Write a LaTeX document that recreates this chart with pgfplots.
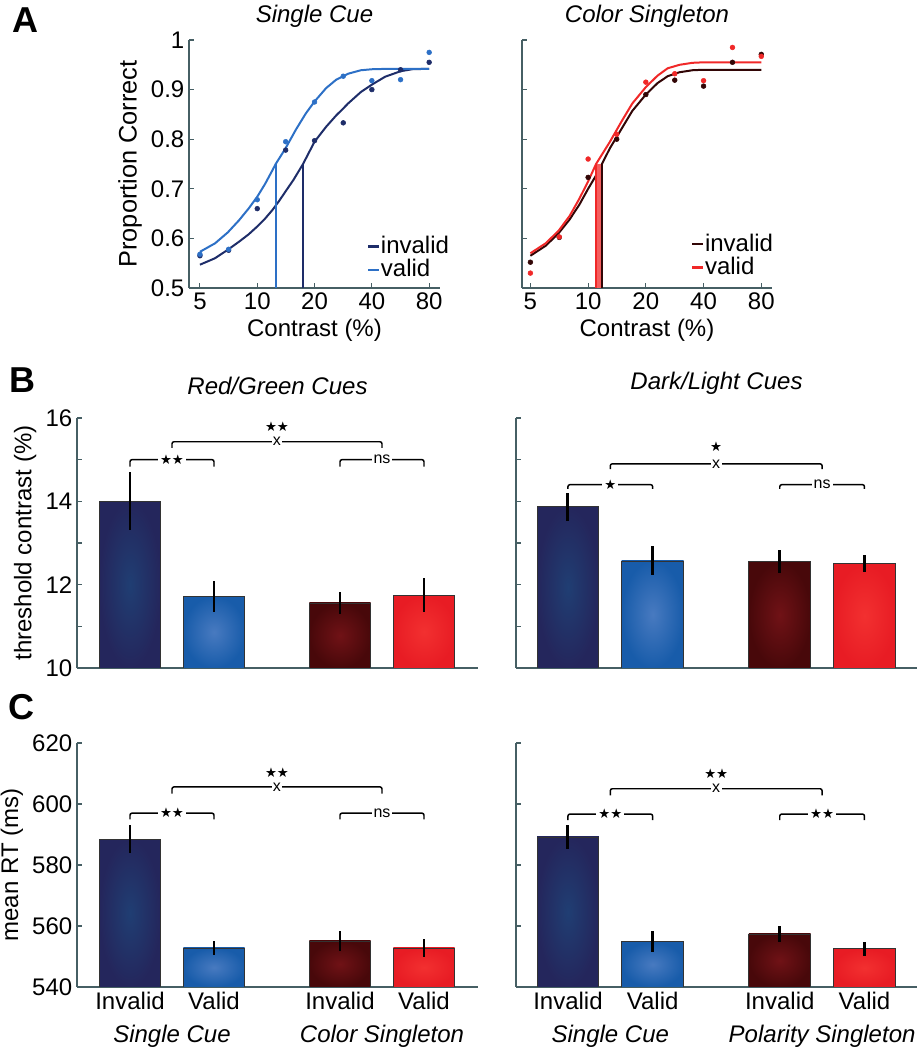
\documentclass[border=0pt]{standalone}
\usepackage{pgfplots}
\pgfplotsset{compat=1.18}
\usepackage{fontspec}
\setmainfont{Liberation Sans}
\newfontfamily\symf{DejaVu Sans}
\definecolor{axcol}{RGB}{70,95,100}
\definecolor{cinv}{RGB}{30,45,105}
\definecolor{cval}{RGB}{45,112,198}
\definecolor{rinv}{RGB}{50,6,6}
\definecolor{rval}{RGB}{240,40,40}
\definecolor{navyout}{RGB}{36,38,92}
\definecolor{navyin}{RGB}{32,62,115}
\definecolor{blueout}{RGB}{24,92,170}
\definecolor{bluein}{RGB}{72,122,192}
\definecolor{marout}{RGB}{72,8,10}
\definecolor{marin}{RGB}{112,18,22}
\definecolor{redout}{RGB}{232,28,36}
\definecolor{redin}{RGB}{242,48,48}
\newcommand{\tfont}{\fontsize{18}{20}\selectfont}
\newcommand{\sfnt}{\fontsize{12}{13}\selectfont}
\newcommand{\stars}[1]{{\symf\fontsize{10}{10}\selectfont #1}}
\tikzset{
 bk/.style={line width=1.1pt, rounded corners=1.5pt},
 lab/.style={fill=white, inner sep=1.5pt, font=\sfnt},
 st/.style={inner sep=0pt, font=\sfnt},
}
\pgfplotsset{
 base/.style={scale only axis, anchor=south west,
   axis x line*=bottom, axis y line*=left,
   axis line style={axcol, line width=1pt},
   tick style={axcol, line width=0.8pt},
   tick align=inside, major tick length=4pt, minor tick length=4pt,
   tick label style={font=\tfont, black},
   label style={font=\tfont},
   title style={font=\tfont\itshape},
   /pgf/number format/assume math mode=true},
 barB/.style={base, ymin=10, ymax=16, ytick={10,12,14,16}, minor ytick={11,13,15},
   xtick=\empty, width=300.75pt, height=187.5pt, title style={yshift=8pt}},
 barC/.style={base, ymin=540, ymax=620, ytick={540,560,580,600,620},
   xtick={1,2,3.5,4.5}, xticklabels={Invalid,Valid,Invalid,Valid}, xtick style={draw=none},
   width=300.75pt, height=183pt},
 ebar/.style={error bars/.cd, y dir=both, y explicit, error mark=none,
   error bar style={line width=2.2pt, black}},
}
\begin{document}
\begin{tikzpicture}
\useasboundingbox (0,0) rectangle (692.25pt,787.5pt);

% ---------------- Panel A left
\begin{axis}[base, xmode=log, ymin=0.5, ymax=1,
  xtick={5,10,20,40,80}, xticklabels={5,10,20,40,80},
  ytick={0.5,0.6,0.7,0.8,0.9,1},
  xlabel={Contrast (\%)},
  legend cell align=left,
  legend image code/.code={\draw[#1, line width=1.8pt] (0pt,0pt) -- (8pt,0pt);},
  legend style={draw=none, fill=none, inner sep=0pt, font=\tfont, row sep=2pt, nodes={inner sep=0.5pt, text height=12.5pt, text depth=2pt}, at={(0.709,0.21)}, anchor=north west},
  at={(141.75pt,571.5pt)}, width=188.25pt, height=186pt,
  xmin=4.38, xmax=91.2, yticklabels={0.5,0.6,0.7,0.8,0.9,1},
  ylabel={Proportion Correct}, ylabel style={font=\fontsize{19}{21}\selectfont}, title={Single Cue}]
\addplot[cinv, line width=1.5pt] coordinates {(5,0.547)(6,0.56)(7,0.577)(8,0.593)(9,0.608)(10,0.624)(11,0.64)(12,0.657)(13,0.675)(14.1,0.695)(15.5,0.718)(17.4,0.75)(20,0.795)(23,0.825)(26,0.848)(28.3,0.862)(30,0.872)(35,0.895)(40,0.91)(47,0.926)(56.6,0.937)(65,0.941)(80,0.942)};
\addlegendentry{invalid}
\addplot[cval, line width=1.5pt] coordinates {(5,0.573)(6,0.59)(7,0.612)(8,0.636)(9,0.66)(10,0.684)(11,0.71)(12,0.737)(12.5,0.75)(14,0.78)(16,0.82)(18,0.852)(20,0.876)(23,0.903)(26,0.92)(30,0.932)(35,0.939)(40,0.941)(50,0.942)(80,0.942)};
\addlegendentry{valid}
\addplot[cinv, line width=1.5pt, forget plot] coordinates {(17.4,0.5)(17.4,0.75)};
\addplot[cval, line width=1.5pt, forget plot] coordinates {(12.5,0.5)(12.5,0.75)};
\addplot[only marks, mark=*, mark size=1.8pt, cinv, forget plot] coordinates {(5,0.565)(7.07,0.576)(10,0.66)(14.1,0.778)(20,0.797)(28.3,0.833)(40,0.90)(56.6,0.94)(80,0.955)};
\addplot[only marks, mark=*, mark size=1.8pt, cval, forget plot] coordinates {(5,0.568)(7.07,0.578)(10,0.678)(14.1,0.795)(20,0.875)(28.3,0.927)(40,0.918)(56.6,0.92)(80,0.975)};
\end{axis}

% ---------------- Panel A right
\begin{axis}[base, xmode=log, ymin=0.5, ymax=1,
  xtick={5,10,20,40,80}, xticklabels={5,10,20,40,80},
  ytick={0.5,0.6,0.7,0.8,0.9,1},
  xlabel={Contrast (\%)},
  legend cell align=left,
  legend image code/.code={\draw[#1, line width=1.8pt] (0pt,0pt) -- (8pt,0pt);},
  legend style={draw=none, fill=none, inner sep=0pt, font=\tfont, row sep=2pt, nodes={inner sep=0.5pt, text height=12.5pt, text depth=2pt}, at={(0.676,0.22)}, anchor=north west},
  at={(391.5pt,571.5pt)}, width=187.5pt, height=186pt,
  xmin=4.52, xmax=91.0, yticklabels={},
  title={Color Singleton}]
\addplot[rinv, line width=1.5pt] coordinates {(5,0.565)(6,0.585)(7,0.61)(8,0.638)(9,0.668)(10,0.7)(11,0.727)(11.8,0.75)(13,0.782)(15,0.822)(17,0.857)(20,0.89)(23,0.913)(26,0.927)(30,0.935)(35,0.939)(40,0.94)(80,0.94)};
\addlegendentry{invalid}
\addplot[rval, line width=1.5pt] coordinates {(5,0.57)(6,0.59)(7,0.615)(8,0.645)(9,0.68)(10,0.715)(11,0.75)(13,0.795)(15,0.837)(17,0.872)(20,0.905)(23,0.928)(26,0.943)(30,0.95)(35,0.954)(40,0.955)(80,0.955)};
\addlegendentry{valid}
\addplot[fill=rval!75, draw=none, forget plot] coordinates {(11,0.5)(11,0.75)(11.8,0.75)(11.8,0.5)} -- cycle;
\addplot[rval, line width=1.5pt, forget plot] coordinates {(11,0.5)(11,0.75)};
\addplot[rinv, line width=1.5pt, forget plot] coordinates {(11.8,0.5)(11.8,0.75)};
\addplot[only marks, mark=*, mark size=1.8pt, rinv, forget plot] coordinates {(5,0.552)(7.07,0.602)(10,0.723)(14.1,0.8)(20,0.89)(28.3,0.919)(40,0.907)(56.6,0.955)(80,0.971)};
\addplot[only marks, mark=*, mark size=1.8pt, rval, forget plot] coordinates {(5,0.53)(7.07,0.603)(10,0.76)(14.1,0.81)(20,0.915)(28.3,0.932)(40,0.918)(56.6,0.985)(80,0.967)};
\end{axis}

% ---------------- Panel B left
\begin{axis}[barB, at={(57.75pt,286.5pt)}, xmin=0.369, xmax=5.143,
  ylabel={threshold contrast (\%)}, title={Red/Green Cues}]
\addplot[ybar, bar width=0.73, bar shift=0pt, draw=black!80, line width=0.6pt, inner color=navyin, outer color=navyout, ebar] coordinates {(1,14.0) +- (0,0.7)};
\addplot[ybar, bar width=0.73, bar shift=0pt, draw=black!80, line width=0.6pt, inner color=bluein, outer color=blueout, ebar] coordinates {(2,11.72) +- (0,0.37)};
\addplot[ybar, bar width=0.73, bar shift=0pt, draw=black!80, line width=0.6pt, inner color=marin, outer color=marout, ebar] coordinates {(3.5,11.56) +- (0,0.27)};
\addplot[ybar, bar width=0.73, bar shift=0pt, draw=black!80, line width=0.6pt, inner color=redin, outer color=redout, ebar] coordinates {(4.5,11.75) +- (0,0.4)};
\draw[bk] (axis cs:1,14.83) -- (axis cs:1,15.0) -- (axis cs:2,15.0) -- (axis cs:2,14.83);
\draw[bk] (axis cs:3.5,14.83) -- (axis cs:3.5,15.0) -- (axis cs:4.5,15.0) -- (axis cs:4.5,14.83);
\draw[bk] (axis cs:1.5,15.28) -- (axis cs:1.5,15.43) -- (axis cs:4.0,15.43) -- (axis cs:4.0,15.28);
\node[lab] at (axis cs:1.5,15.0) {\stars{★★}};
\node[lab] at (axis cs:4.0,15.0) {ns};
\node[lab, inner sep=1pt] at (axis cs:2.75,15.43) {x};
\node[st] at (axis cs:2.75,15.8) {\stars{★★}};
\end{axis}

% ---------------- Panel B right
\begin{axis}[barB, at={(387pt,286.5pt)}, xmin=0.387, xmax=5.12, yticklabels={},
  title={Dark/Light Cues}]
\addplot[ybar, bar width=0.73, bar shift=0pt, draw=black!80, line width=0.6pt, inner color=navyin, outer color=navyout, ebar] coordinates {(1,13.87) +- (0,0.34)};
\addplot[ybar, bar width=0.73, bar shift=0pt, draw=black!80, line width=0.6pt, inner color=bluein, outer color=blueout, ebar] coordinates {(2,12.57) +- (0,0.35)};
\addplot[ybar, bar width=0.73, bar shift=0pt, draw=black!80, line width=0.6pt, inner color=marin, outer color=marout, ebar] coordinates {(3.5,12.55) +- (0,0.27)};
\addplot[ybar, bar width=0.73, bar shift=0pt, draw=black!80, line width=0.6pt, inner color=redin, outer color=redout, ebar] coordinates {(4.5,12.5) +- (0,0.2)};
\draw[bk] (axis cs:1,14.3) -- (axis cs:1,14.4) -- (axis cs:2,14.4) -- (axis cs:2,14.3);
\draw[bk] (axis cs:3.5,14.3) -- (axis cs:3.5,14.4) -- (axis cs:4.5,14.4) -- (axis cs:4.5,14.3);
\draw[bk] (axis cs:1.5,14.77) -- (axis cs:1.5,14.9) -- (axis cs:4.0,14.9) -- (axis cs:4.0,14.77);
\node[lab] at (axis cs:1.5,14.4) {\stars{★}};
\node[lab] at (axis cs:4.0,14.4) {ns};
\node[lab, inner sep=1pt] at (axis cs:2.75,14.9) {x};
\node[st] at (axis cs:2.75,15.3) {\stars{★}};
\end{axis}

% ---------------- Panel C left
\begin{axis}[barC, at={(57.75pt,47.25pt)}, xmin=0.369, xmax=5.143,
  ylabel={mean RT (ms)}]
\addplot[ybar, bar width=0.73, bar shift=0pt, draw=black!80, line width=0.6pt, inner color=navyin, outer color=navyout, ebar] coordinates {(1,588.5) +- (0,4.5)};
\addplot[ybar, bar width=0.73, bar shift=0pt, draw=black!80, line width=0.6pt, inner color=bluein, outer color=blueout, ebar] coordinates {(2,552.8) +- (0,2.3)};
\addplot[ybar, bar width=0.73, bar shift=0pt, draw=black!80, line width=0.6pt, inner color=marin, outer color=marout, ebar] coordinates {(3.5,555.1) +- (0,3.3)};
\addplot[ybar, bar width=0.73, bar shift=0pt, draw=black!80, line width=0.6pt, inner color=redin, outer color=redout, ebar] coordinates {(4.5,552.8) +- (0,3.0)};
\draw[bk] (axis cs:1,595) -- (axis cs:1,597) -- (axis cs:2,597) -- (axis cs:2,595);
\draw[bk] (axis cs:3.5,595) -- (axis cs:3.5,597) -- (axis cs:4.5,597) -- (axis cs:4.5,595);
\draw[bk] (axis cs:1.5,603.4) -- (axis cs:1.5,605.6) -- (axis cs:4.0,605.6) -- (axis cs:4.0,603.4);
\node[lab] at (axis cs:1.5,597) {\stars{★★}};
\node[lab] at (axis cs:4.0,597) {ns};
\node[lab, inner sep=1pt] at (axis cs:2.75,605.6) {x};
\node[st] at (axis cs:2.75,610.3) {\stars{★★}};
\coordinate (g1) at (axis cs:1.5,540);
\coordinate (g2) at (axis cs:4.0,540);
\end{axis}
\node[font=\tfont\itshape] at ([yshift=-37pt]g1) {Single Cue};
\node[font=\tfont\itshape] at ([yshift=-37pt]g2) {Color Singleton};

% ---------------- Panel C right
\begin{axis}[barC, at={(387pt,47.25pt)}, xmin=0.387, xmax=5.12, yticklabels={}]
\addplot[ybar, bar width=0.73, bar shift=0pt, draw=black!80, line width=0.6pt, inner color=navyin, outer color=navyout, ebar] coordinates {(1,589.2) +- (0,3.8)};
\addplot[ybar, bar width=0.73, bar shift=0pt, draw=black!80, line width=0.6pt, inner color=bluein, outer color=blueout, ebar] coordinates {(2,554.8) +- (0,3.4)};
\addplot[ybar, bar width=0.73, bar shift=0pt, draw=black!80, line width=0.6pt, inner color=marin, outer color=marout, ebar] coordinates {(3.5,557.4) +- (0,2.6)};
\addplot[ybar, bar width=0.73, bar shift=0pt, draw=black!80, line width=0.6pt, inner color=redin, outer color=redout, ebar] coordinates {(4.5,552.5) +- (0,2.3)};
\draw[bk] (axis cs:1,594.7) -- (axis cs:1,596.7) -- (axis cs:2,596.7) -- (axis cs:2,594.7);
\draw[bk] (axis cs:3.5,594.7) -- (axis cs:3.5,596.7) -- (axis cs:4.5,596.7) -- (axis cs:4.5,594.7);
\draw[bk] (axis cs:1.5,602.8) -- (axis cs:1.5,605) -- (axis cs:4.0,605) -- (axis cs:4.0,602.8);
\node[lab] at (axis cs:1.5,596.7) {\stars{★★}};
\node[lab] at (axis cs:4.0,596.7) {\stars{★★}};
\node[lab, inner sep=1pt] at (axis cs:2.75,605) {x};
\node[st] at (axis cs:2.75,610) {\stars{★★}};
\coordinate (h1) at (axis cs:1.5,540);
\coordinate (h2) at (axis cs:4.0,540);
\end{axis}
\node[font=\tfont\itshape] at ([yshift=-37pt]h1) {Single Cue};
\node[font=\tfont\itshape] at ([yshift=-37pt]h2) {Polarity Singleton};

% panel letters
\node[font=\fontsize{27}{27}\selectfont\bfseries] at (18.75pt,772.5pt) {A};
\node[font=\fontsize{27}{27}\selectfont\bfseries] at (16.5pt,502.5pt) {B};
\node[font=\fontsize{27}{27}\selectfont\bfseries] at (15.75pt,257.25pt) {C};
\end{tikzpicture}
\end{document}
